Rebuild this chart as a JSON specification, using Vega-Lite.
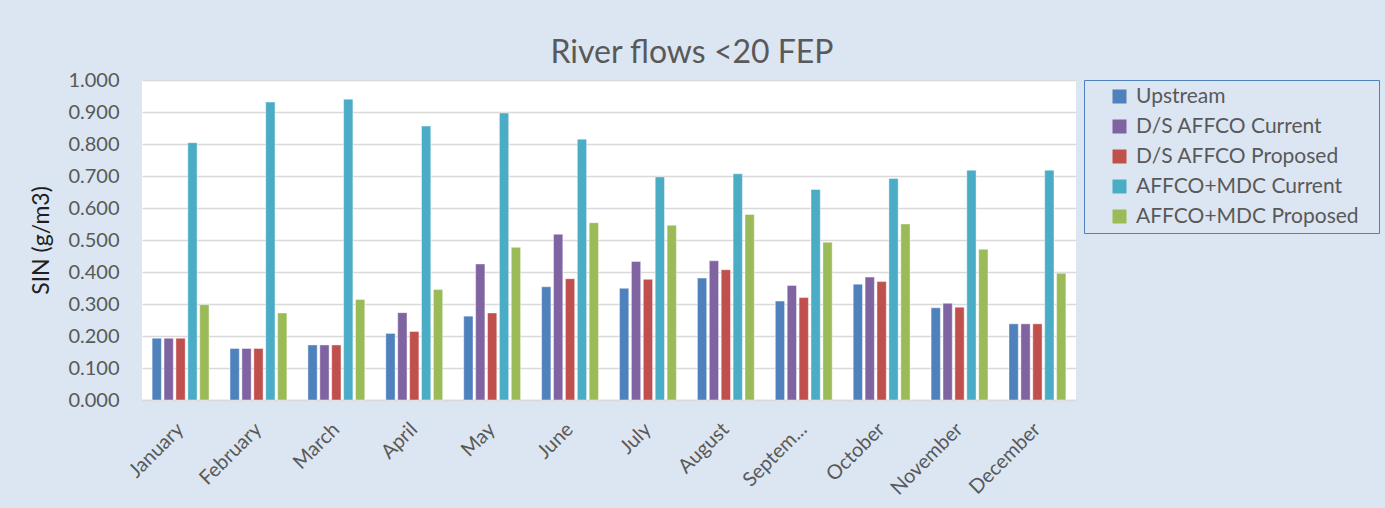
{
  "$schema": "https://vega.github.io/schema/vega-lite/v6.json",
  "width": 934,
  "height": 320,
  "autosize": {"type": "none"},
  "padding": {"left": 142, "top": 80, "right": 309, "bottom": 108},
  "background": "#DCE6F2",
  "config": {
    "font": "Lato",
    "view": {"fill": "#FFFFFF", "stroke": null}
  },
  "title": {
    "text": "River flows <20 FEP",
    "fontSize": 32,
    "fontWeight": "normal",
    "color": "#595959",
    "anchor": "middle",
    "dx": 83,
    "offset": 0
  },
  "data": {
    "values": [
      {"month": "January", "series": "Upstream", "sin": 0.193},
      {"month": "January", "series": "D/S AFFCO Current", "sin": 0.193},
      {"month": "January", "series": "D/S AFFCO Proposed", "sin": 0.193},
      {"month": "January", "series": "AFFCO+MDC Current", "sin": 0.804},
      {"month": "January", "series": "AFFCO+MDC Proposed", "sin": 0.298},
      {"month": "February", "series": "Upstream", "sin": 0.161},
      {"month": "February", "series": "D/S AFFCO Current", "sin": 0.161},
      {"month": "February", "series": "D/S AFFCO Proposed", "sin": 0.161},
      {"month": "February", "series": "AFFCO+MDC Current", "sin": 0.931},
      {"month": "February", "series": "AFFCO+MDC Proposed", "sin": 0.272},
      {"month": "March", "series": "Upstream", "sin": 0.172},
      {"month": "March", "series": "D/S AFFCO Current", "sin": 0.172},
      {"month": "March", "series": "D/S AFFCO Proposed", "sin": 0.172},
      {"month": "March", "series": "AFFCO+MDC Current", "sin": 0.940},
      {"month": "March", "series": "AFFCO+MDC Proposed", "sin": 0.314},
      {"month": "April", "series": "Upstream", "sin": 0.208},
      {"month": "April", "series": "D/S AFFCO Current", "sin": 0.273},
      {"month": "April", "series": "D/S AFFCO Proposed", "sin": 0.214},
      {"month": "April", "series": "AFFCO+MDC Current", "sin": 0.856},
      {"month": "April", "series": "AFFCO+MDC Proposed", "sin": 0.345},
      {"month": "May", "series": "Upstream", "sin": 0.262},
      {"month": "May", "series": "D/S AFFCO Current", "sin": 0.425},
      {"month": "May", "series": "D/S AFFCO Proposed", "sin": 0.272},
      {"month": "May", "series": "AFFCO+MDC Current", "sin": 0.897},
      {"month": "May", "series": "AFFCO+MDC Proposed", "sin": 0.477},
      {"month": "June", "series": "Upstream", "sin": 0.354},
      {"month": "June", "series": "D/S AFFCO Current", "sin": 0.518},
      {"month": "June", "series": "D/S AFFCO Proposed", "sin": 0.379},
      {"month": "June", "series": "AFFCO+MDC Current", "sin": 0.815},
      {"month": "June", "series": "AFFCO+MDC Proposed", "sin": 0.554},
      {"month": "July", "series": "Upstream", "sin": 0.349},
      {"month": "July", "series": "D/S AFFCO Current", "sin": 0.433},
      {"month": "July", "series": "D/S AFFCO Proposed", "sin": 0.377},
      {"month": "July", "series": "AFFCO+MDC Current", "sin": 0.697},
      {"month": "July", "series": "AFFCO+MDC Proposed", "sin": 0.546},
      {"month": "August", "series": "Upstream", "sin": 0.381},
      {"month": "August", "series": "D/S AFFCO Current", "sin": 0.435},
      {"month": "August", "series": "D/S AFFCO Proposed", "sin": 0.407},
      {"month": "August", "series": "AFFCO+MDC Current", "sin": 0.707},
      {"month": "August", "series": "AFFCO+MDC Proposed", "sin": 0.580},
      {"month": "September", "series": "Upstream", "sin": 0.309},
      {"month": "September", "series": "D/S AFFCO Current", "sin": 0.358},
      {"month": "September", "series": "D/S AFFCO Proposed", "sin": 0.320},
      {"month": "September", "series": "AFFCO+MDC Current", "sin": 0.658},
      {"month": "September", "series": "AFFCO+MDC Proposed", "sin": 0.493},
      {"month": "October", "series": "Upstream", "sin": 0.362},
      {"month": "October", "series": "D/S AFFCO Current", "sin": 0.384},
      {"month": "October", "series": "D/S AFFCO Proposed", "sin": 0.370},
      {"month": "October", "series": "AFFCO+MDC Current", "sin": 0.692},
      {"month": "October", "series": "AFFCO+MDC Proposed", "sin": 0.550},
      {"month": "November", "series": "Upstream", "sin": 0.288},
      {"month": "November", "series": "D/S AFFCO Current", "sin": 0.302},
      {"month": "November", "series": "D/S AFFCO Proposed", "sin": 0.290},
      {"month": "November", "series": "AFFCO+MDC Current", "sin": 0.718},
      {"month": "November", "series": "AFFCO+MDC Proposed", "sin": 0.471},
      {"month": "December", "series": "Upstream", "sin": 0.238},
      {"month": "December", "series": "D/S AFFCO Current", "sin": 0.238},
      {"month": "December", "series": "D/S AFFCO Proposed", "sin": 0.238},
      {"month": "December", "series": "AFFCO+MDC Current", "sin": 0.718},
      {"month": "December", "series": "AFFCO+MDC Proposed", "sin": 0.396}
    ]
  },
  "mark": {"type": "bar", "stroke": "#FFFFFF", "strokeWidth": 0.6, "strokeOpacity": 0.7},
  "encoding": {
    "x": {
      "field": "month",
      "type": "nominal",
      "sort": null,
      "scale": {"paddingInner": 0.27, "paddingOuter": 0.13},
      "axis": {
        "title": null,
        "labelAngle": -45,
        "labelAlign": "right",
        "labelBaseline": "middle",
        "labelFontSize": 20,
        "labelColor": "#595959",
        "labelPadding": 26,
        "labelLimit": 200,
        "labelExpr": "datum.value == 'September' ? 'Septem...' : datum.value",
        "ticks": false,
        "tickSize": 0,
        "domainColor": "#D9D9D9",
        "domainWidth": 1.5,
        "grid": false
      }
    },
    "xOffset": {
      "field": "series",
      "type": "nominal",
      "sort": ["Upstream", "D/S AFFCO Current", "D/S AFFCO Proposed", "AFFCO+MDC Current", "AFFCO+MDC Proposed"],
      "scale": {"paddingInner": 0.22, "paddingOuter": 0}
    },
    "y": {
      "field": "sin",
      "type": "quantitative",
      "scale": {"domain": [0, 1], "nice": false},
      "axis": {
        "title": "SIN (g/m3)",
        "titleFontSize": 23,
        "titleFontWeight": "normal",
        "titleColor": "#1F1F1F",
        "titlePadding": 14,
        "values": [0, 0.1, 0.2, 0.3, 0.4, 0.5, 0.6, 0.7, 0.8, 0.9, 1.0],
        "format": ".3f",
        "labelFontSize": 20,
        "labelColor": "#595959",
        "labelPadding": 23,
        "ticks": false,
        "tickSize": 0,
        "domain": false,
        "gridColor": "#D9D9D9",
        "gridWidth": 1.5
      }
    },
    "color": {
      "field": "series",
      "type": "nominal",
      "scale": {
        "domain": ["Upstream", "D/S AFFCO Current", "D/S AFFCO Proposed", "AFFCO+MDC Current", "AFFCO+MDC Proposed"],
        "range": ["#4F81BD", "#8064A2", "#C0504D", "#4BACC6", "#9BBB59"]
      },
      "legend": {
        "title": " ",
        "titleOrient": "right",
        "titlePadding": 14,
        "titleFontSize": 20,
        "orient": "none",
        "legendX": 942,
        "legendY": 0,
        "direction": "vertical",
        "padding": 6,
        "symbolOffset": 19,
        "symbolType": "square",
        "symbolSize": 196,
        "symbolStrokeWidth": 0,
        "labelFontSize": 21,
        "labelColor": "#595959",
        "labelOffset": 6,
        "labelLimit": 300,
        "rowPadding": 8,
        "strokeColor": "#4F81BD",
        "fillColor": "#DCE6F2"
      }
    }
  }
}
